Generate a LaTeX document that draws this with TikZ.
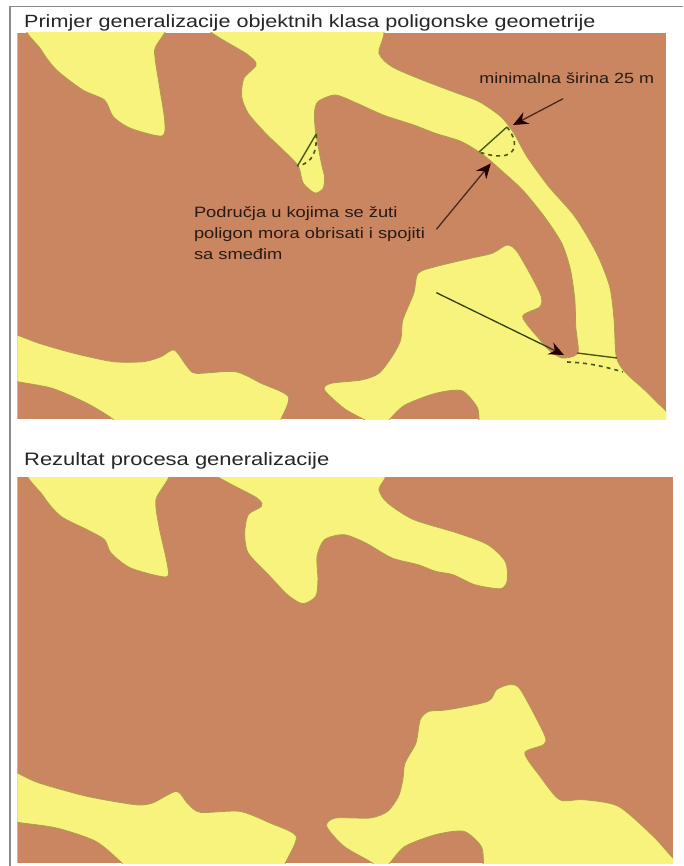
\documentclass[tikz,border=0pt]{standalone}
\usepackage{fontspec}
\setmainfont{Liberation Sans}[FakeStretch=1.22]
\usetikzlibrary{arrows.meta}
\definecolor{soil}{HTML}{C98660}
\definecolor{sand}{HTML}{F8F37C}
\definecolor{rim}{HTML}{B09A50}
\definecolor{mark}{HTML}{4A5A14}
\definecolor{framegray}{HTML}{8A8A8A}
\definecolor{ink}{HTML}{2A1A14}
\definecolor{shaft}{HTML}{4A2A20}
\tikzset{
  soilbox/.style={fill=soil,draw=none},
  patch/.style={fill=sand,draw=rim,line width=0.8pt,line join=round},
  rawedge/.style={smooth cycle,tension=0.45},
  solidmark/.style={draw=mark,line width=1.4pt},
  dashmark/.style={draw=mark,line width=1.6pt,dash pattern=on 4pt off 4pt},
  pointer/.style={draw=#1,line width=1.3pt,-{Stealth[length=15pt,width=13pt,black!85!red]}},
  heading/.style={anchor=base west,inner sep=0pt,font=\fontsize{17.7pt}{20pt}\selectfont,text=black!85},
  remark/.style={anchor=base west,inner sep=0pt,font=\fontsize{15pt}{18pt}\selectfont,text=ink}
}
\begin{document}
\begin{tikzpicture}[x=0.4355pt,y=-0.33333pt]
\useasboundingbox (0,0) rectangle (1568.3,2598);
\fill[white] (0,0) rectangle (1568.3,2598);
\draw[framegray,line width=1.3pt] (1568.3,20) -- (23,20) -- (23,2598);
% top panel
\begin{scope}
\clip (40,98) rectangle (1530,1258);
\fill[soilbox] (40,98) rectangle (1530,1258);
\path[patch] plot[rawedge] coordinates {(65,60)(95,150)(130,210)(190,270)(240,300)(260,350)(300,385)(372,408)(378,360)(365,250)(355,150)(372,60)};
\path[patch] plot[rawedge] coordinates {(470,60)(570,165)(588,195)(560,235)(555,290)(570,340)(610,400)(650,450)(685,498)(696,549)(723,579)(742,565)(745,530)(738,490)(725,400)(722,340)(730,305)(770,285)(820,310)(880,345)(950,375)(1000,400)(1060,425)(1110,465)(1150,510)(1200,570)(1250,650)(1290,730)(1310,810)(1320,900)(1322,980)(1328,1050)(1318,1068)(1290,1074)(1262,1052)(1240,1020)(1200,950)(1240,920)(1240,880)(1190,760)(1165,735)(1130,760)(1080,775)(1000,800)(960,820)(950,880)(925,960)(920,1020)(900,1070)(870,1120)(830,1140)(760,1150)(745,1170)(790,1225)(835,1258)(880,1290)(895,1258)(930,1215)(1000,1180)(1060,1172)(1095,1220)(1100,1258)(1100,1300)(1560,1300)(1560,1265)(1527,1230)(1480,1170)(1435,1116)(1415,1070)(1410,960)(1400,860)(1370,760)(1320,650)(1260,560)(1210,470)(1180,400)(1150,350)(1100,305)(1040,275)(960,235)(900,200)(870,160)(858,60)};
\path[patch] plot[rawedge] coordinates {(10,990)(40,1005)(90,1030)(170,1060)(260,1085)(330,1085)(370,1070)(400,1050)(430,1100)(450,1120)(540,1115)(600,1150)(662,1190)(645,1258)(630,1300)(290,1300)(260,1258)(200,1210)(120,1165)(40,1145)(10,1135)};
\end{scope}
% marks, top panel
\coordinate (w1a) at (726,402); \coordinate (w1b) at (683,498);
\draw[solidmark] (w1a) -- (w1b);
\draw[dashmark] (w1a) .. controls (728,450) and (720,490) .. (w1b);
\coordinate (w2a) at (1164,381); \coordinate (w2b) at (1100,456);
\draw[solidmark] (w2a) -- (w2b);
\draw[dashmark] (w2a) .. controls (1195,430) and (1190,495) .. (w2b);
\coordinate (w3a) at (1325,1059); \coordinate (w3b) at (1417,1074);
\coordinate (w3c) at (1302,1086); \coordinate (w3d) at (1430,1116);
\draw[solidmark] (w3a) -- (w3b);
\draw[dashmark] (w3c) .. controls (1350,1088) and (1390,1100) .. (w3d);
% labels, top panel
\node[heading] (title1) at (55,82) {Primjer generalizacije objektnih klasa poligonske geometrije};
\node[remark,font=\fontsize{14.75pt}{18pt}\selectfont] (minw) at (1100,250) {minimalna širina 25 m};
\node[remark] (area1) at (445,652) {Područja u kojima se žuti};
\node[remark] (area2) at (445,715) {poligon mora obrisati i spojiti};
\node[remark] (area3) at (445,778) {sa smeđim};
\coordinate (a1s) at (1293,296); \coordinate (a1e) at (1178,375);
\coordinate (a2s) at (1002,688); \coordinate (a2e) at (1127,490);
\coordinate (a3s) at (1002,878); \coordinate (a3e) at (1295,1065);
\draw[pointer=shaft] (a1s) -- (a1e);
\draw[pointer=shaft] (a2s) -- (a2e);
\draw[pointer=mark!70!black] (a3s) -- (a3e);
% bottom panel
\begin{scope}[shift={(0,1299)}]
\node[heading,font=\fontsize{18pt}{20pt}\selectfont] (title2) at (55,96) {Rezultat procesa generalizacije};
\begin{scope}
\clip (40,133) rectangle (1545,1290);
\fill[soilbox] (40,133) rectangle (1545,1290);
\path[patch] plot[rawedge] coordinates {(68,95)(100,190)(140,250)(200,290)(240,320)(255,360)(300,405)(380,432)(385,400)(365,280)(358,200)(380,95)};
\path[patch] plot[rawedge] coordinates {(480,95)(590,195)(600,220)(570,245)(562,300)(570,360)(620,430)(660,485)(695,512)(725,490)(730,440)(728,370)(745,320)(790,305)(840,330)(900,375)(960,395)(1000,415)(1040,425)(1090,455)(1150,467)(1165,440)(1160,385)(1120,335)(1050,300)(950,260)(890,210)(870,170)(868,95)};
\path[patch] plot[rawedge] coordinates {(1170,755)(1195,770)(1250,905)(1248,935)(1205,960)(1240,1030)(1285,1100)(1340,1100)(1420,1120)(1500,1210)(1545,1275)(1590,1330)(1110,1330)(1110,1290)(1105,1240)(1065,1195)(1000,1205)(930,1240)(895,1290)(875,1320)(855,1290)(790,1240)(750,1180)(770,1155)(850,1155)(890,1135)(915,1090)(925,1040)(930,990)(955,930)(965,860)(985,835)(1030,830)(1120,805)(1140,770)};
\path[patch] plot[rawedge] coordinates {(10,1000)(40,1020)(90,1050)(200,1090)(310,1115)(350,1110)(405,1075)(430,1110)(460,1138)(550,1135)(620,1170)(680,1210)(655,1290)(640,1330)(310,1330)(280,1290)(220,1225)(130,1185)(40,1168)(10,1160)};
\end{scope}
\end{scope}
\end{tikzpicture}
\end{document}
